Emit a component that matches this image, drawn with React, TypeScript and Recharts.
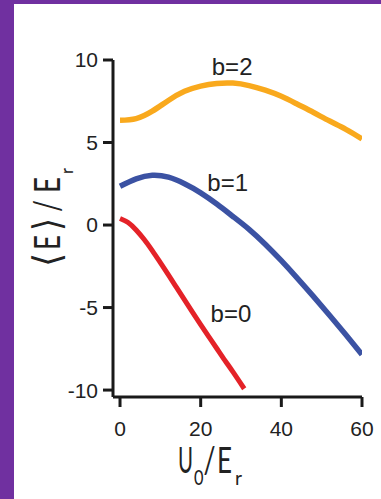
import React from 'react';
import { LineChart, Line, XAxis, YAxis, ReferenceDot } from 'recharts';

// Axis ticks
const xTicks = [0, 20, 40, 60];
const yTicks = [-10, -5, 0, 5, 10];

// Mean energy <E>/E_r versus lattice depth U0/E_r for bands b = 0, 1, 2
const b0U = [0, 2, 4, 6, 8, 10, 12, 14, 16, 18, 20, 22, 24, 26, 28, 30.8];
const b0E = [0.4, 0.15, -0.3, -0.88, -1.55, -2.28, -3.02, -3.78, -4.54, -5.29, -6.03, -6.76, -7.48, -8.2, -8.9, -9.92];

const b1U = [0, 4, 8, 12, 16, 20, 24, 28, 32, 36, 40, 44, 48, 52, 56, 60];
const b1E = [2.35, 2.8, 3.02, 2.9, 2.5, 1.95, 1.27, 0.52, -0.26, -1.16, -2.16, -3.23, -4.34, -5.48, -6.65, -7.85];

const b2U = [0, 4, 8, 12, 16, 20, 24, 28, 32, 36, 40, 44, 48, 52, 56, 60];
const b2E = [6.35, 6.45, 6.9, 7.55, 8.1, 8.42, 8.58, 8.6, 8.45, 8.17, 7.8, 7.32, 6.82, 6.3, 5.8, 5.22];

// Band labels
const labelText = ['b=2', 'b=1', 'b=0'];
const labelU = [27.8, 26.7, 27.5];
const labelE = [9.62, 2.55, -5.33];

const bandColors = ['#F9A91D', '#3B52A3', '#E42228'];

const toPoints = (u: number[], e: number[]) => u.map((x, i) => ({ u: x, e: e[i] }));

const b0 = toPoints(b0U, b0E);
const b1 = toPoints(b1U, b1E);
const b2 = toPoints(b2U, b2E);

const W = 381;
const H = 499;
const ink = '#1a1a1a';
const tickFont = { fill: '#222', fontSize: 21, fontFamily: 'Liberation Sans, Arial, sans-serif' };
const titleFont = 'Lato, Liberation Sans, sans-serif';
const bracketFont = 'DejaVu Sans, sans-serif';

type Run = { t: string; x: number; y?: number; size: number; len: number; font?: string };

// One <text> per title; each run is squeezed to its own width
function Title(props: { transform: string; runs: Run[] }) {
  return (
    <text transform={props.transform} fill="#222" fontWeight={400} fontFamily={titleFont}>
      {props.runs.map((r, i) => (
        <tspan
          key={i}
          x={r.x}
          y={r.y ?? 0}
          fontSize={r.size}
          fontFamily={r.font ?? titleFont}
          textLength={r.len}
          lengthAdjust="spacingAndGlyphs"
        >
          {r.t}
        </tspan>
      ))}
    </text>
  );
}

const xTitleRuns: Run[] = [
  { t: 'U', x: 0, size: 36, len: 15 },
  { t: '0', x: 16, y: 12, size: 21, len: 9.5 },
  { t: '/', x: 25.5, size: 36, len: 12 },
  { t: 'E', x: 39, size: 36, len: 15 },
  { t: 'r', x: 57, y: 12, size: 19, len: 7 },
];

const yTitleRuns: Run[] = [
  { t: '⟨', x: 0, size: 38, len: 14, font: bracketFont },
  { t: 'E', x: 17, size: 36, len: 15 },
  { t: '⟩', x: 36, size: 38, len: 13, font: bracketFont },
  { t: '/', x: 55, size: 36, len: 12 },
  { t: 'E', x: 74, size: 36, len: 16 },
  { t: 'r', x: 93, y: 13, size: 18, len: 6 },
];

function AxisTitles() {
  return (
    <svg width={W} height={H} style={{ position: 'absolute', left: 0, top: 0, pointerEvents: 'none' }}>
      <Title transform="translate(178, 473)" runs={xTitleRuns} />
      <Title transform="translate(60, 267) rotate(-90)" runs={yTitleRuns} />
    </svg>
  );
}

export default function App() {
  return (
    <div style={{ position: 'absolute', left: 0, top: 0, width: W, height: H, background: '#7030A0', overflow: 'hidden' }}>
      <div style={{ position: 'absolute', left: 14, top: 4, right: 0, bottom: 0, background: '#ffffff' }} />
      <div style={{ position: 'absolute', left: 0, top: 0 }}>
        <LineChart width={W} height={H} margin={{ top: 60, right: 19, bottom: 72, left: 53 }}>
          <XAxis
            type="number"
            dataKey="u"
            domain={[-1.74, 60]}
            allowDataOverflow
            ticks={xTicks}
            interval={0}
            height={30}
            tickSize={10}
            tickMargin={14}
            axisLine={{ stroke: ink, strokeWidth: 3 }}
            tickLine={{ stroke: ink, strokeWidth: 3 }}
            tick={tickFont}
          />
          <YAxis
            type="number"
            dataKey="e"
            domain={[-10.42, 10]}
            allowDataOverflow
            ticks={yTicks}
            interval={0}
            width={60}
            tickSize={10}
            tickMargin={5}
            axisLine={{ stroke: ink, strokeWidth: 3 }}
            tickLine={{ stroke: ink, strokeWidth: 3 }}
            tick={tickFont}
          />
          <Line data={b2} dataKey="e" type="natural" stroke={bandColors[0]} strokeWidth={5.5} dot={false} isAnimationActive={false} />
          <Line data={b1} dataKey="e" type="natural" stroke={bandColors[1]} strokeWidth={5.5} dot={false} isAnimationActive={false} />
          <Line data={b0} dataKey="e" type="natural" stroke={bandColors[2]} strokeWidth={5} dot={false} isAnimationActive={false} />
          {labelText.map((t, i) => (
            <ReferenceDot
              key={t}
              x={labelU[i]}
              y={labelE[i]}
              r={1}
              fill="none"
              stroke="none"
              label={{ value: t, position: 'center', fill: '#222', fontSize: 24, fontFamily: 'Liberation Sans, Arial, sans-serif' }}
            />
          ))}
        </LineChart>
      </div>
      <AxisTitles />
    </div>
  );
}
